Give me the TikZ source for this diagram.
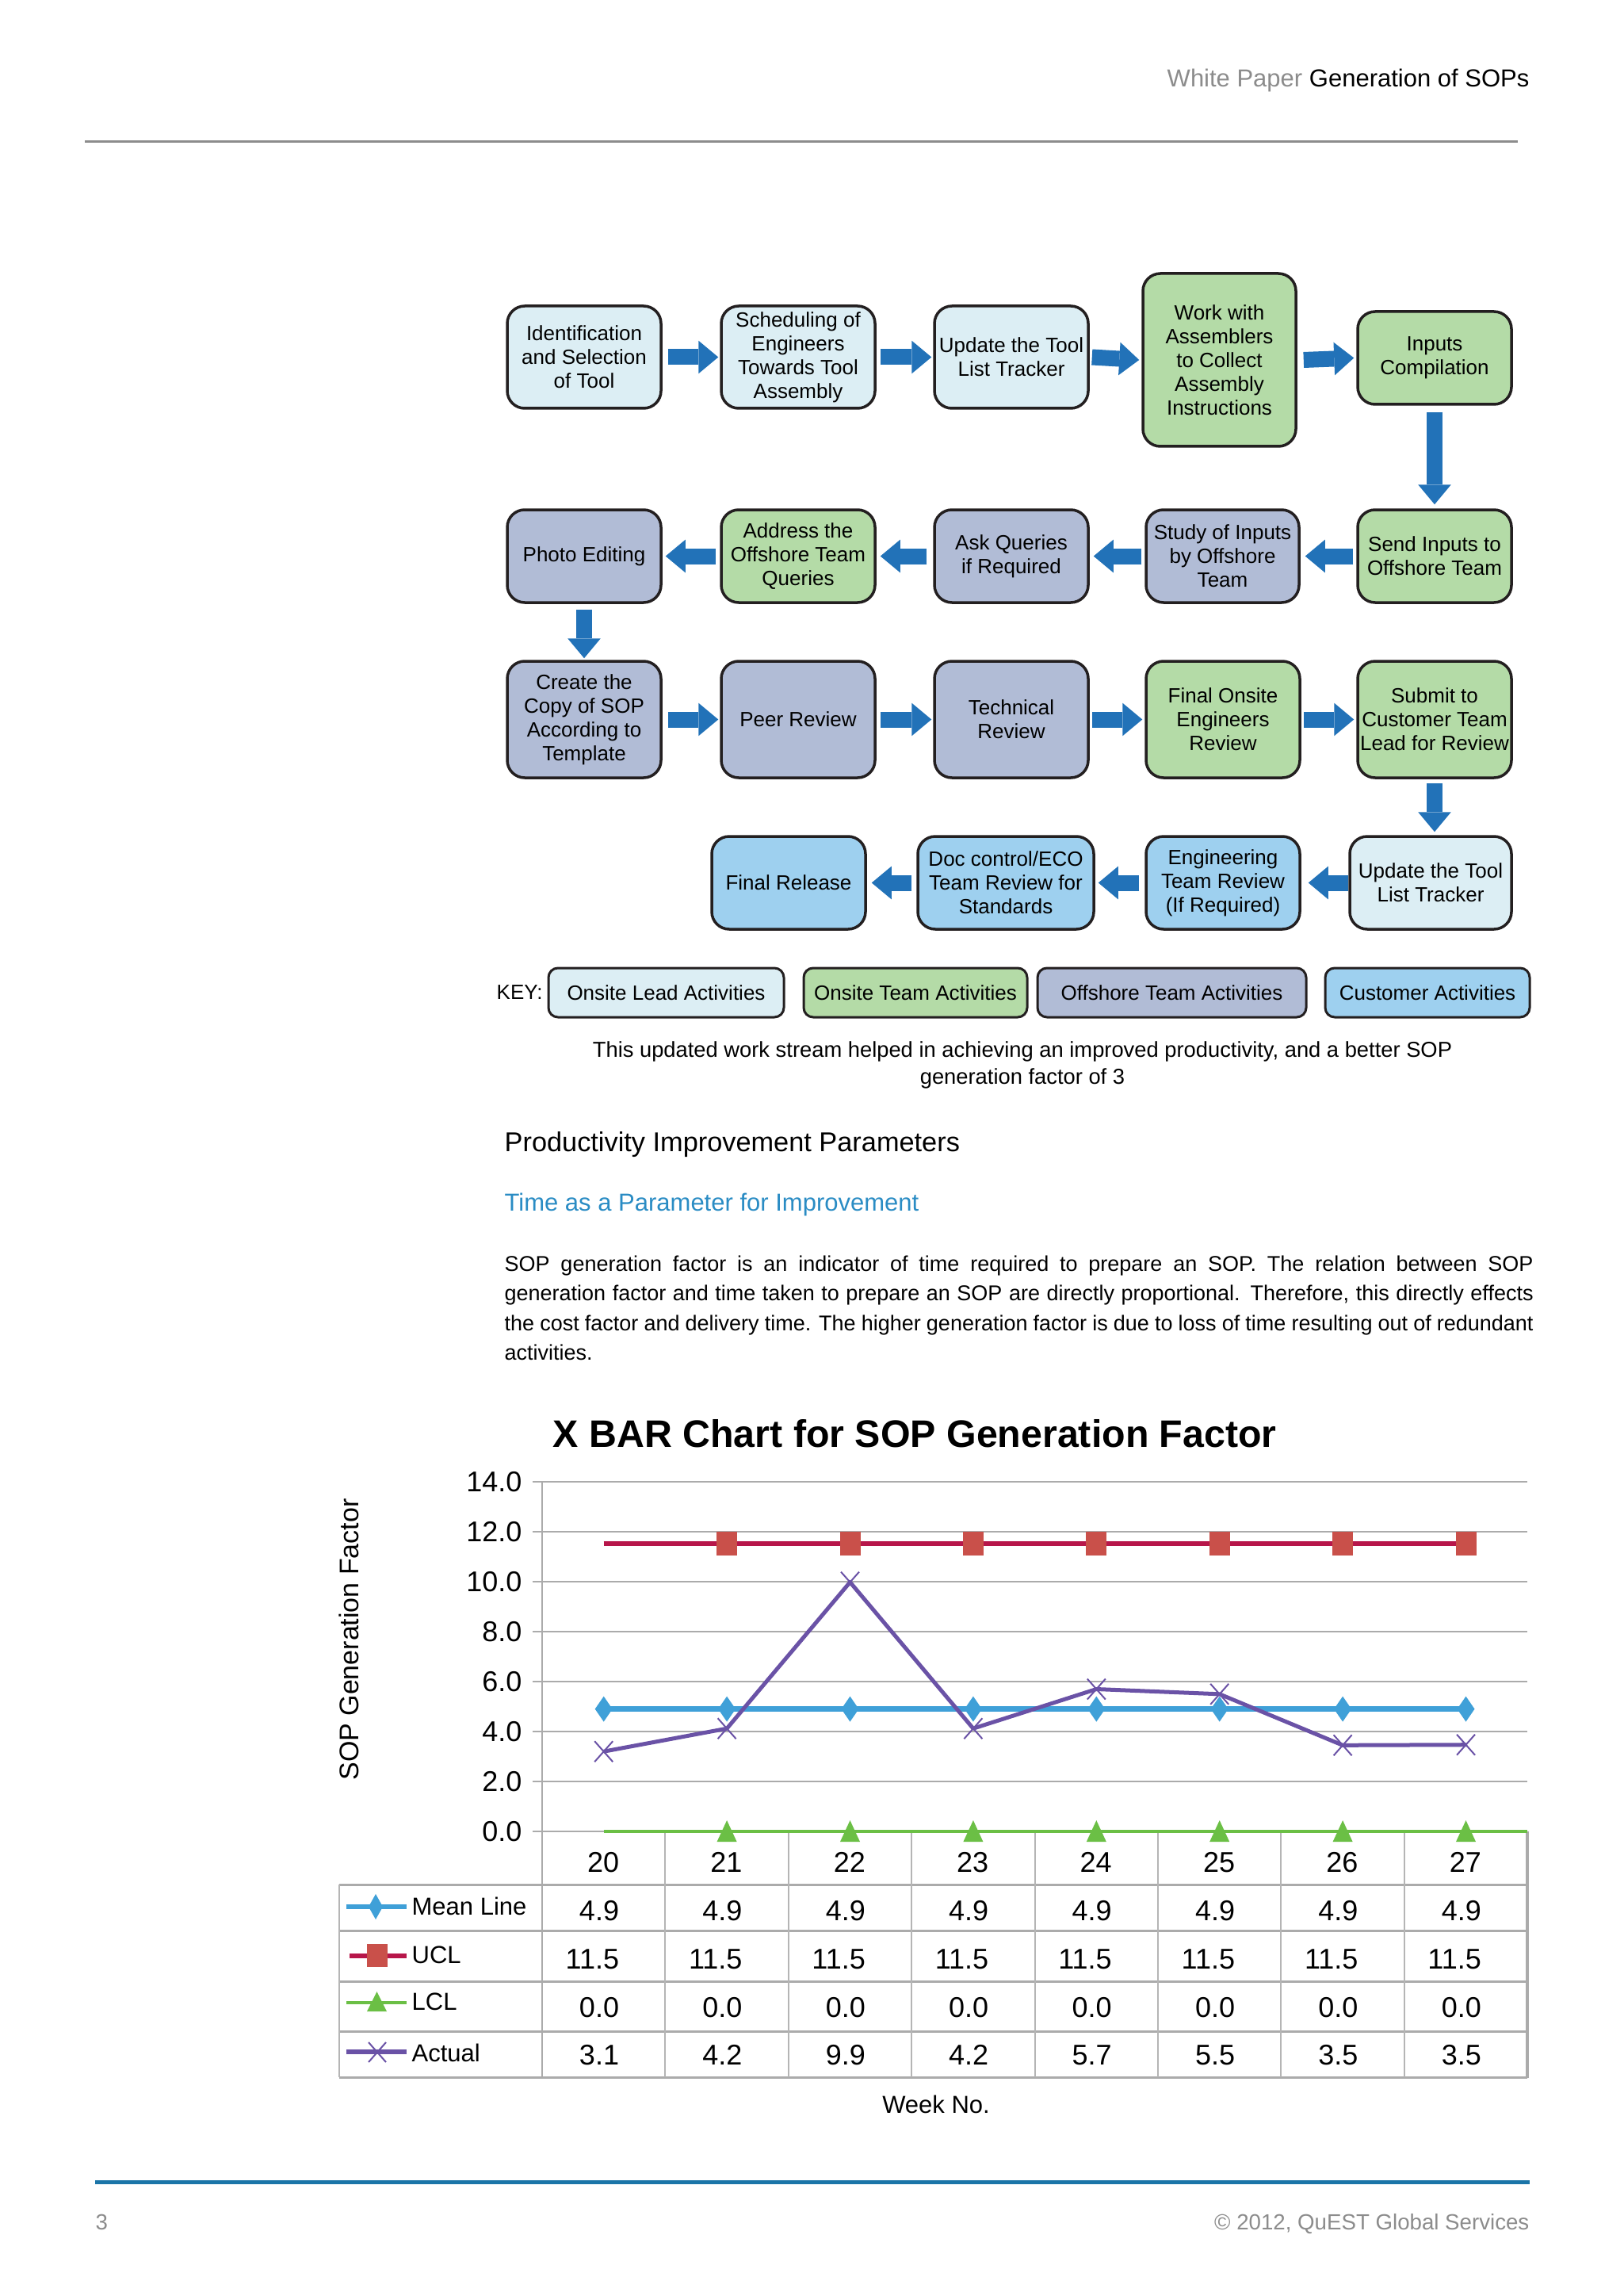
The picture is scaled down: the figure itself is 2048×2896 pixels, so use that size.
\documentclass[tikz,border=0pt]{standalone}
\usepackage{fontspec}
\setmainfont{Liberation Sans}
\usetikzlibrary{arrows.meta,calc}
\definecolor{leadc}{HTML}{DCEEF4}
\definecolor{teamc}{HTML}{B4DBA7}
\definecolor{offc}{HTML}{B1BCD6}
\definecolor{custc}{HTML}{9ED0EF}
\definecolor{bordc}{HTML}{231F20}
\definecolor{arrc}{HTML}{2272B8}
\definecolor{hgray}{HTML}{8C8C8C}
\definecolor{subblue}{HTML}{2A8CC4}
\definecolor{footblue}{HTML}{1B75A8}
\definecolor{gridc}{HTML}{ABABAB}
\definecolor{tabc}{HTML}{B5B5B5}
\definecolor{meanc}{HTML}{3FA0D8}
\definecolor{uclc}{HTML}{B7164A}
\definecolor{uclm}{HTML}{C9504A}
\definecolor{lclc}{HTML}{6BBF45}
\definecolor{actc}{HTML}{6A52A6}
\newcommand\fsz[2]{\fontsize{#1}{#2}\selectfont}
\begin{document}
\begin{tikzpicture}[x=0.3pt,y=-0.3pt,
  fbox/.style={draw=bordc, line width=1.05pt, rounded corners=6.6pt, align=center,
    inner sep=0pt, font=\fsz{7.8}{9}, minimum width=58.2pt, minimum height=35.1pt},
  lead/.style={fbox, fill=leadc},
  team/.style={fbox, fill=teamc},
  off/.style={fbox, fill=offc},
  cust/.style={fbox, fill=custc},
  flowarrow/.style={draw=arrc, line width=6pt,
    -{Triangle[length=7.5pt,width=12.5pt,line width=0pt]}},
  keybox/.style={draw=bordc, line width=0.9pt, rounded corners=3.6pt, inner sep=0pt,
    minimum height=18.6pt, font=\fsz{7.8}{9}},
  gridline/.style={draw=gridc, line width=0.75pt},
  tabh/.style={draw=gridc, line width=0.9pt},
  tabv/.style={draw=tabc, line width=0.6pt},
  ticklab/.style={anchor=east, inner sep=0pt, font=\fsz{10.8}{13}},
  num/.style={anchor=east, inner sep=0pt, font=\fsz{10.8}{13}},
  legtext/.style={anchor=west, inner sep=0pt, font=\fsz{9.3}{11}}
]
\useasboundingbox (0,0) rectangle (2048,2896);
\fill[white] (0,0) rectangle (2048,2896);

% header and footer
\node[anchor=base east, inner sep=0pt, font=\fsz{9.3}{11}] (hdr) at (1930,110)
  {{\color{hgray}White Paper} Generation of SOPs};
\coordinate (hl1) at (107,179);
\coordinate (hl2) at (1915,179);
\draw[hgray, line width=0.9pt] (hl1) -- (hl2);
\coordinate (fl1) at (120,2752);
\coordinate (fl2) at (1930,2752);
\draw[footblue, line width=1.5pt] (fl1) -- (fl2);
\node[anchor=base west, inner sep=0pt, font=\fsz{8.3}{10}, text=hgray] (pg) at (120,2812) {3};
\node[anchor=base east, inner sep=0pt, font=\fsz{8.3}{10}, text=hgray] (copy) at (1930,2812)
  {\textcopyright\ 2012, QuEST Global Services};

% flowchart boxes
\node[lead, minimum height=38.7pt] (b1) at (737,450.5) {Identification\\and Selection\\of Tool};
\node[lead, minimum height=38.7pt] (b2) at (1007,450.5) {Scheduling of\\Engineers\\Towards Tool\\Assembly};
\node[lead, minimum height=38.7pt] (b3) at (1276,450.5) {Update the Tool\\List Tracker};
\node[team, minimum width=57.9pt, minimum height=65.4pt] (b4) at (1538.5,454) {Work with\\Assemblers\\to Collect\\Assembly\\Instructions};
\node[team] (b5) at (1810,451.5) {Inputs\\Compilation};

\node[team] (b6) at (1810,701.5) {Send Inputs to\\Offshore Team};
\node[off, minimum width=57.9pt] (b7) at (1542.5,701.5) {Study of Inputs\\by Offshore\\Team};
\node[off] (b8) at (1276,701.5) {Ask Queries\\if Required};
\node[team] (b9) at (1007,701.5) {Address the\\Offshore Team\\Queries};
\node[off] (b10) at (737,701.5) {Photo Editing};

\node[off, minimum height=44.1pt] (b11) at (737,907.5) {Create the\\Copy of SOP\\According to\\Template};
\node[off, minimum height=44.1pt] (b12) at (1007,907.5) {Peer Review};
\node[off, minimum height=44.1pt] (b13) at (1276,907.5) {Technical\\Review};
\node[team, minimum height=44.1pt] (b14) at (1543,907.5) {Final Onsite\\Engineers\\Review};
\node[team, minimum height=44.1pt] (b15) at (1810,907.5) {Submit to\\Customer Team\\Lead for Review};

\node[lead, minimum width=61.2pt] (b17) at (1805,1113.5) {Update the Tool\\List Tracker};
\node[cust] (b18) at (1543,1113.5) {Engineering\\Team Review\\(If Required)};
\node[cust, minimum width=66.6pt] (b19) at (1269,1113.5) {Doc control/ECO\\Team Review for\\Standards};
\node[cust] (b20) at (995,1113.5) {Final Release};

% flowchart arrows
\draw[flowarrow] ($(b1.east)+(7,0)$) -- ($(b2.west)+(-2,0)$);
\draw[flowarrow] ($(b2.east)+(5,0)$) -- ($(b3.west)+(-2,0)$);
\draw[flowarrow] ($(b3.east)+(3,0)$) -- ($(b4.west)+(-3,0)$);
\draw[flowarrow] ($(b4.east)+(8,0)$) -- ($(b5.west)+(-3,0)$);
\draw[flowarrow] ($(b5.south)+(0,8)$) -- ($(b6.north)+(0,-5)$);
\draw[flowarrow] ($(b6.west)+(-4,0)$) -- ($(b7.east)+(6,0)$);
\draw[flowarrow] ($(b7.west)+(-4,0)$) -- ($(b8.east)+(5,0)$);
\draw[flowarrow] ($(b8.west)+(-8,0)$) -- ($(b9.east)+(5,0)$);
\draw[flowarrow] ($(b9.west)+(-5,0)$) -- ($(b10.east)+(4,0)$);
\draw[flowarrow] ($(b10.south)+(0,7)$) -- ($(b11.north)+(0,-2)$);
\draw[flowarrow] ($(b11.east)+(7,0)$) -- ($(b12.west)+(-2,0)$);
\draw[flowarrow] ($(b12.east)+(5,0)$) -- ($(b13.west)+(-2,0)$);
\draw[flowarrow] ($(b13.east)+(3,0)$) -- ($(b14.west)+(-3,0)$);
\draw[flowarrow] ($(b14.east)+(3,0)$) -- ($(b15.west)+(-3,0)$);
\draw[flowarrow] ($(b15.south)+(0,5)$) -- ($(b15.south |- b17.north)+(0,-4)$);
\draw[flowarrow] ($(b17.west)+(0,0)$) -- ($(b18.east)+(9,0)$);
\draw[flowarrow] ($(b18.west)+(-7,0)$) -- ($(b19.east)+(4,0)$);
\draw[flowarrow] ($(b19.west)+(-6,0)$) -- ($(b20.east)+(6,0)$);

% key
\node[anchor=west, inner sep=0pt, font=\fsz{7.8}{9}] (keylab) at (626,1252) {KEY:};
\node[keybox, fill=leadc, minimum width=89.1pt] (k1) at (840.5,1252) {Onsite Lead Activities};
\node[keybox, fill=teamc, minimum width=84.6pt] (k2) at (1155,1252) {Onsite Team Activities};
\node[keybox, fill=offc, minimum width=101.7pt] (k3) at (1478.5,1252) {Offshore Team Activities};
\node[keybox, fill=custc, minimum width=77.4pt] (k4) at (1801,1252) {Customer Activities};

% caption
\node[anchor=base, inner sep=0pt] (cap) at (1290,1333)
  {\parbox[t]{390pt}{\centering\fsz{8.2}{10.2}This updated work stream helped in achieving an improved productivity, and a better SOP\\generation factor of 3}};

% headings and paragraph
\node[anchor=base west, inner sep=0pt, font=\fsz{10.3}{12}] (h1) at (636,1452) {Productivity Improvement Parameters};
\node[anchor=base west, inner sep=0pt, font=\fsz{9.3}{11}, text=subblue] (h2) at (636,1527) {Time as a Parameter for Improvement};
\node[anchor=base west, inner sep=0pt] (para) at (636,1603)
  {\parbox[t]{389.4pt}{\fsz{8.1}{11.25}%
  \makebox[389.4pt][s]{SOP generation factor is an indicator of time required to prepare an SOP. The relation between SOP}\\
  \makebox[389.4pt][s]{generation factor and time taken to prepare an SOP are directly proportional. Therefore, this directly effects}\\
  \makebox[389.4pt][s]{the cost factor and delivery time. The higher generation factor is due to loss of time resulting out of redundant}\\
  activities.}};

% chart title and axis label
\node[anchor=base west, inner sep=0pt, font=\bfseries\fsz{14.5}{17}] (ctitle) at (697,1825) {X BAR Chart for SOP Generation Factor};
\node[rotate=90, inner sep=0pt, font=\fsz{10.2}{12}] (ylab) at (440,2068) {SOP Generation Factor};

% gridlines and tick labels
\foreach \v [count=\k] in {0,2,...,14}{
  \draw[gridline] (672,{2310-31.5*\v}) -- (1927,{2310-31.5*\v});
  \node[ticklab] (tk\k) at (659,{2310-31.5*\v}) {\v.0};
}

% table lines
\foreach \yy in {2377,2435,2499,2562,2620} \draw[tabh] (428,\yy) -- (1927,\yy);
\foreach \k in {1,...,7} \draw[tabv] ({684+155.4*\k},2310) -- ({684+155.4*\k},2620);
\draw[gridc, line width=1.2pt] (1927,2310) -- (1927,2621);
\draw[tabv] (428,2377) -- (428,2620);
\draw[gridline] (684,1869) -- (684,2620);

% LCL series
\draw[lclc, line width=1.2pt] (761.7,2310) -- (1927,2310);
\foreach \i in {1,...,7} \fill[lclc] ({761.7+155.4*\i},2296) -- ++(12.5,27) -- ++(-25,0) -- cycle;

% Mean series
\draw[meanc, line width=2pt] (761.7,2155.6) -- (1849.5,2155.6);
\foreach \i in {0,...,7} \fill[meanc] ({761.7+155.4*\i},2139.6) -- ++(11,16) -- ++(-11,16) -- ++(-11,-16) -- cycle;

% UCL series
\draw[uclc, line width=1.8pt] (761.7,1947) -- (1849.5,1947);
\foreach \i in {1,...,7} \fill[uclm] ({748.7+155.4*\i},1932) rectangle ++(26,30);

% Actual series
\coordinate (a0) at (761.7,2209.2);
\coordinate (a1) at (917.1,2180.2);
\coordinate (a2) at (1072.5,1995.6);
\coordinate (a3) at (1227.9,2180.2);
\coordinate (a4) at (1383.3,2130.5);
\coordinate (a5) at (1538.7,2136.8);
\coordinate (a6) at (1694.1,2201.3);
\coordinate (a7) at (1849.5,2200.7);
\draw[actc, line width=1.5pt, line join=round] (a0) -- (a1) -- (a2) -- (a3) -- (a4) -- (a5) -- (a6) -- (a7);
\foreach \i in {0,...,7} \draw[actc, line width=0.6pt] ($(a\i)+(-11.5,-13)$) -- ($(a\i)+(11.5,13)$) ($(a\i)+(-11.5,13)$) -- ($(a\i)+(11.5,-13)$);

% table contents
\foreach \w [count=\i from 0] in {20,...,27} \node[num] (wk\i) at ({781.7+155.4*\i},2349) {\w};
\foreach \i in {0,...,7} \node[num] (m\i) at ({781.7+155.4*\i},2410) {4.9};
\foreach \i in {0,...,7} \node[num] (u\i) at ({781.7+155.4*\i},2471) {11.5};
\foreach \i in {0,...,7} \node[num] (l\i) at ({781.7+155.4*\i},2532) {0.0};
\foreach \val [count=\i from 0] in {3.1,4.2,9.9,4.2,5.7,5.5,3.5,3.5} \node[num] (ac\i) at ({781.7+155.4*\i},2592) {\val};

% legend icons
\draw[meanc, line width=2pt] (437,2405) -- (513,2405);
\fill[meanc] (474,2389) -- ++(9,16) -- ++(-9,16) -- ++(-9,-16) -- cycle;
\draw[uclc, line width=1.8pt] (441,2467) -- (513,2467);
\fill[uclm] (463,2452) rectangle ++(26,29);
\draw[lclc, line width=1pt] (437,2526) -- (513,2526);
\fill[lclc] (475.5,2512) -- ++(12.5,25) -- ++(-25,0) -- cycle;
\draw[actc, line width=1.8pt] (437,2588) -- (513,2588);
\draw[actc, line width=0.6pt] (465,2576) -- (487,2601) (465,2601) -- (487,2576);
\node[legtext] (lg1) at (519,2404) {Mean Line};
\node[legtext] (lg2) at (519,2466) {UCL};
\node[legtext] (lg3) at (519,2525) {LCL};
\node[legtext] (lg4) at (519,2589) {Actual};

\node[anchor=base, inner sep=0pt, font=\fsz{9.3}{11}] (xlab) at (1181,2665) {Week No.};
\end{tikzpicture}
\end{document}
